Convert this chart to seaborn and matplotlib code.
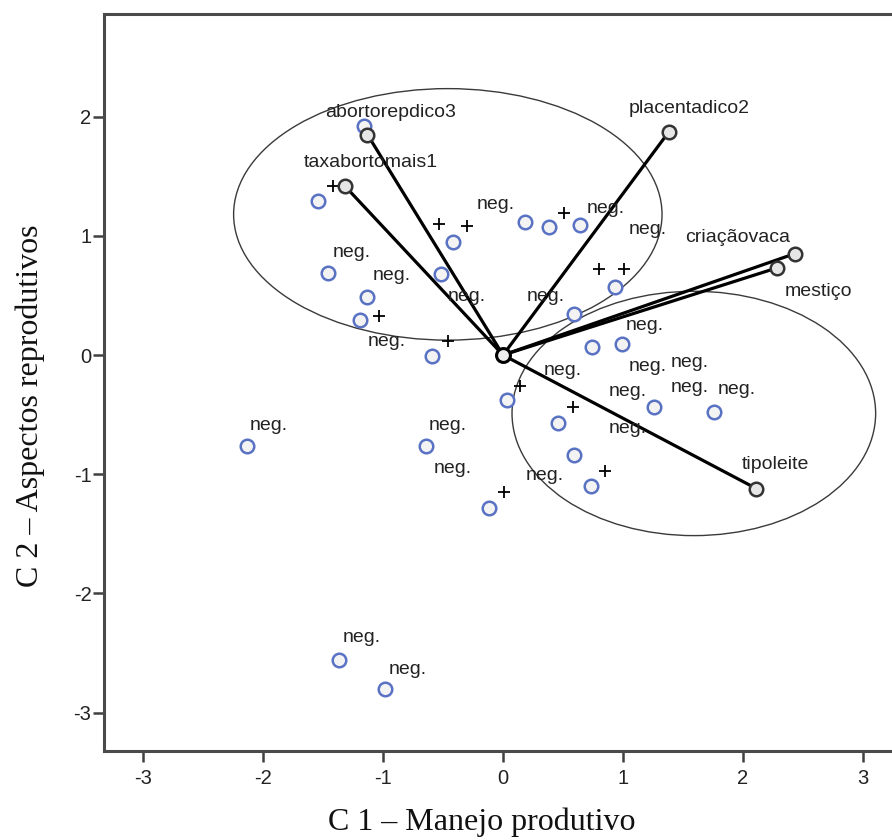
import matplotlib
matplotlib.use('Agg')
import matplotlib.pyplot as plt
import pandas as pd
import seaborn as sns
from matplotlib.patches import Ellipse

# Case scores (blue circles)
case_x = [-1.16, -1.54, -0.42, -0.52, -1.46, -1.13, -1.19, -0.59, 0.18, 0.38,
          0.64, 0.93, 0.59, 0.74, 0.99, 1.26, 1.76, 0.03, 0.46, 0.59,
          0.73, -0.12, -0.64, -2.13, -1.37, -0.98]
case_y = [1.92, 1.29, 0.95, 0.68, 0.69, 0.49, 0.29, -0.01, 1.12, 1.07,
          1.09, 0.57, 0.34, 0.07, 0.09, -0.44, -0.48, -0.38, -0.57, -0.84,
          -1.10, -1.28, -0.76, -0.76, -2.56, -2.80]

# Category points (+)
plus_x = [-1.42, -0.53, -0.30, 0.51, 0.80, 1.01, -1.03, -0.46, 0.14, 0.58, 0.85, 0.01]
plus_y = [1.42, 1.10, 1.08, 1.19, 0.72, 0.72, 0.33, 0.12, -0.26, -0.44, -0.97, -1.15]

# "neg." case labels
neg_x = [-0.06, 0.86, 1.21, -1.26, -0.93, -0.30, -0.97, 0.36, 1.18, 0.50, 1.21,
         1.56, 1.56, 1.95, 1.04, 1.04, 0.35, -1.95, -0.46, -0.42, -1.18, -0.79]
neg_y = [1.26, 1.23, 1.05, 0.86, 0.67, 0.49, 0.11, 0.49, 0.25, -0.13, -0.10,
         -0.06, -0.27, -0.29, -0.31, -0.62, -1.01, -0.59, -0.59, -0.95, -2.37, -2.64]

# Variable loadings (vectors)
var_names = ['abortorepdico3', 'taxabortomais1', 'placentadico2', 'criaçãovaca', 'mestiço', 'tipoleite']
var_x = [-1.13, -1.32, 1.38, 2.43, 2.28, 2.11]
var_y = [1.85, 1.42, 1.87, 0.85, 0.73, -1.12]

# Group ellipses: centre x, centre y, width, height
ell_cx = [-0.46, 1.59]
ell_cy = [1.18, -0.49]
ell_w = [3.57, 3.03]
ell_h = [2.11, 2.05]

sns.set_theme(style='white')
plt.rcParams['font.family'] = ['Liberation Sans', 'DejaVu Sans']
plt.rcParams['axes.unicode_minus'] = False

cases = pd.DataFrame({'x': case_x, 'y': case_y})
plus = pd.DataFrame({'x': plus_x, 'y': plus_y})
loads = pd.DataFrame({'name': var_names, 'x': var_x, 'y': var_y})

fig = plt.figure(figsize=(8.92, 8.4), dpi=100)
ax = fig.add_axes([104 / 892, 89 / 840, 796 / 892, 737 / 840])

for cx, cy, w, h in zip(ell_cx, ell_cy, ell_w, ell_h):
    ax.add_patch(Ellipse((cx, cy), w, h, fill=False, edgecolor='#3a3a3a', lw=1.0, zorder=1))

for _, r in loads.iterrows():
    ax.plot([0, r['x']], [0, r['y']], color='black', lw=2.3, zorder=2, solid_capstyle='round')

sns.scatterplot(data=plus, x='x', y='y', marker='+', s=70, color='black',
                linewidth=1.3, ax=ax, zorder=3)
sns.scatterplot(data=cases, x='x', y='y', marker='o', s=95, facecolor='#f3f3f3',
                edgecolor='#5a72c4', linewidth=1.8, ax=ax, zorder=4)
sns.scatterplot(data=loads, x='x', y='y', marker='o', s=95, facecolor='#e6e6e6',
                edgecolor='#333333', linewidth=1.8, ax=ax, zorder=5)
ax.scatter([0], [0], s=100, facecolor='#eeeeee', edgecolor='black', linewidth=2.2, zorder=6)

for nx, ny in zip(neg_x, neg_y):
    ax.text(nx, ny, 'neg.', fontsize=14, color='#222222', ha='center', va='center', zorder=7)

offsets = {'abortorepdico3': (17, 16), 'taxabortomais1': (19, 17), 'placentadico2': (15, 17),
           'criaçãovaca': (-41, 12), 'mestiço': (30, -17), 'tipoleite': (14, 17)}
for _, r in loads.iterrows():
    ax.annotate(r['name'], (r['x'], r['y']), xytext=offsets[r['name']], textcoords='offset points',
                fontsize=14, color='#222222', ha='center', va='center', zorder=7)

ax.set_xlim(-3.325, 3.308)
ax.set_ylim(-3.322, 2.861)
ax.set_xticks([-3, -2, -1, 0, 1, 2, 3])
ax.set_yticks([-3, -2, -1, 0, 1, 2])
ax.set_xlabel('')
ax.set_ylabel('')

for side in ['left', 'bottom', 'top']:
    ax.spines[side].set_color('#4a4a4a')
    ax.spines[side].set_linewidth(2.2)
ax.spines['right'].set_visible(False)

ax.tick_params(axis='both', direction='out', length=8, width=1.8, color='#404040',
               labelsize=14.5, labelcolor='#222222', bottom=True, left=True)
ax.tick_params(axis='x', pad=5)
ax.tick_params(axis='y', pad=1)

fig.text(482 / 892, 1 - 822 / 840, 'C 1 – Manejo produtivo', fontsize=23,
         family='Liberation Serif', ha='center', va='center', color='#111111')
fig.text(30 / 892, 1 - 406 / 840, 'C 2 – Aspectos reprodutivos', fontsize=23,
         family='Liberation Serif', ha='center', va='center', rotation=90, color='#111111')

fig.savefig('out.png', dpi=100)
